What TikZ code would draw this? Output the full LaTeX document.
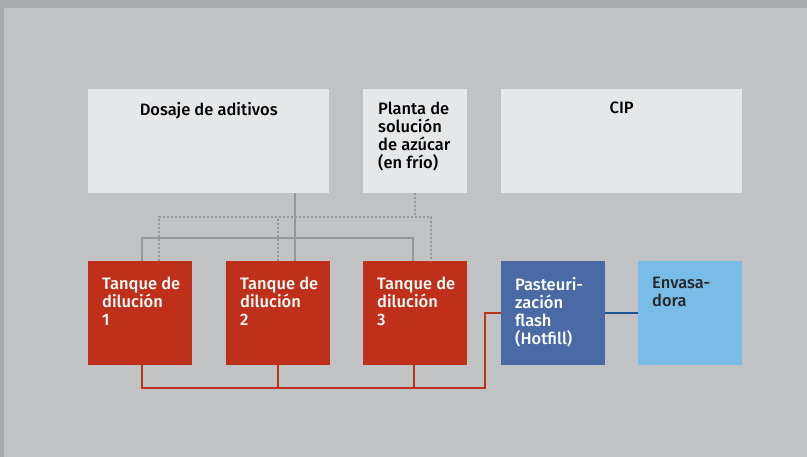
\documentclass[tikz,border=0pt]{standalone}
\usepackage{fontspec}
\setmainfont{Fira Sans}[BoldFont={Fira Sans Medium}]
\usetikzlibrary{positioning}
\definecolor{framegray}{RGB}{169, 170, 173}
\definecolor{panelgray}{RGB}{193, 194, 195}
\definecolor{boxgray}{RGB}{230, 231, 232}
\definecolor{tankred}{RGB}{190, 48, 26}
\definecolor{pasteurblue}{RGB}{74, 106, 165}
\definecolor{fillerblue}{RGB}{120, 188, 231}
\definecolor{pipegray}{RGB}{150, 151, 153}
\definecolor{pipeblue}{RGB}{30, 84, 150}
\tikzset{
    unitbox/.style={anchor=north west, inner sep=0pt, minimum width=104pt, minimum height=104pt},
    unittext/.style={anchor=north west, inner sep=0pt, align=left,
                     font=\bfseries\fontsize{16.5}{18}\selectfont},
    solidpipe/.style={draw=pipegray, line width=2pt},
    dotpipe/.style={draw=pipegray, line width=2pt, dash pattern=on 2pt off 2pt},
    redpipe/.style={draw=tankred, line width=2pt},
    bluepipe/.style={draw=pipeblue, line width=2pt}
}
\begin{document}
\begin{tikzpicture}[x=1pt, y=-1pt]
            % Frame and panel
            \fill[framegray]                                                  (  0.0,  0.0) rectangle (807.0, 457.0);
            \fill[panelgray]                                                  (  4.0,  8.0) rectangle (807.0, 457.0);
            \useasboundingbox                                                 (  0.0,  0.0) rectangle (807.0, 457.0);
            % Supply units
            \node[unitbox, fill=boxgray, minimum width=241pt] (dosing) at ( 88.0, 89.0) {};
            \node[unitbox, fill=boxgray]                      (sugar)  at (363.0, 89.0) {};
            \node[unitbox, fill=boxgray, minimum width=241pt] (cip)    at (501.0, 89.0) {};
            \node[unittext, anchor=north] (dosingtext) at ([yshift=-13pt]dosing.north) {Dosaje de aditivos};
            \node[unittext]               (sugartext)  at ([xshift=15pt, yshift=-13pt]sugar.north west)
                 {Planta de\\solución\\de azúcar\\(en frío)};
            \node[unittext, anchor=north] (ciptext)    at ([yshift=-13pt]cip.north) {CIP};
            % Dilution tanks
            \node[unitbox, fill=tankred] (tank1) at ( 88.0, 261.0) {};
            \node[unitbox, fill=tankred] (tank2) at (226.0, 261.0) {};
            \node[unitbox, fill=tankred] (tank3) at (363.0, 261.0) {};
            \node[unittext, white] (tank1text) at ([xshift=14pt, yshift=-16pt]tank1.north west) {Tanque de\\dilución\\1};
            \node[unittext, white] (tank2text) at ([xshift=14pt, yshift=-16pt]tank2.north west) {Tanque de\\dilución\\2};
            \node[unittext, white] (tank3text) at ([xshift=14pt, yshift=-16pt]tank3.north west) {Tanque de\\dilución\\3};
            % Pasteurization and filler
            \node[unitbox, fill=pasteurblue] (pasteur) at (501.0, 261.0) {};
            \node[unitbox, fill=fillerblue]  (filler)  at (638.0, 261.0) {};
            \node[unittext, white]            (pasteurtext) at ([xshift=14pt, yshift=-16pt]pasteur.north west)
                 {Pasteuri-\\zación\\flash\\(Hotfill)};
            \node[unittext, black!85]         (fillertext)  at ([xshift=14pt, yshift=-16pt]filler.north west)
                 {Envasa-\\dora};
            % Pipe junctions
            \coordinate (in1)     at (142.0, 261.0);
            \coordinate (in2)     at (295.0, 261.0);
            \coordinate (in3)     at (413.0, 261.0);
            \coordinate (rail)    at (  0.0, 238.0);
            \coordinate (dot1)    at (159.0, 261.0);
            \coordinate (dot2)    at (278.0, 261.0);
            \coordinate (dot3)    at (431.0, 261.0);
            \coordinate (dotout)  at (415.0, 193.0);
            \coordinate (dotrail) at (  0.0, 217.0);
            \coordinate (out1)    at (142.0, 365.0);
            \coordinate (out2)    at (278.0, 365.0);
            \coordinate (out3)    at (414.0, 365.0);
            \coordinate (collect) at (485.0, 388.0);
            % Additive lines
            \draw[solidpipe] (dosing.south -| in2) -- (in2);
            \draw[solidpipe] (in1) -- (in1 |- rail) -- (in3 |- rail) -- (in3);
            % Sugar lines
            \draw[dotpipe] (dotout) -- (dotout |- dotrail);
            \draw[dotpipe] (dot1) -- (dot1 |- dotrail) -- (dot3 |- dotrail) -- (dot3);
            \draw[dotpipe] (dot2) -- (dot2 |- dotrail);
            % Product lines
            \draw[redpipe] (out1) -- (out1 |- collect) -- (collect) -- (collect |- pasteur.west) -- (pasteur.west);
            \draw[redpipe] (out2) -- (out2 |- collect);
            \draw[redpipe] (out3) -- (out3 |- collect);
            \draw[bluepipe] (pasteur.east) -- (filler.west);
        \end{tikzpicture}
\end{document}
